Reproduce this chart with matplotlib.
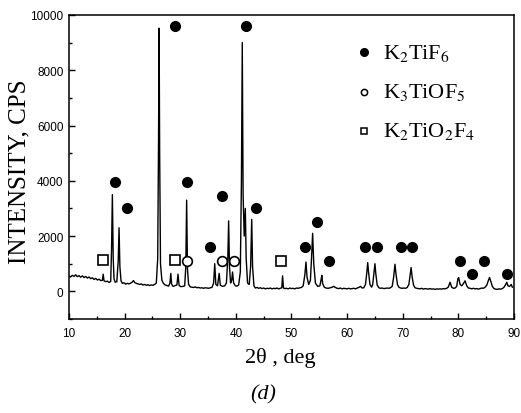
import matplotlib
matplotlib.use("Agg")
import matplotlib.pyplot as plt

plt.rcParams["font.family"] = ["Liberation Serif", "DejaVu Serif"]
plt.rcParams["mathtext.fontset"] = "stix"

# XRD pattern (2theta in deg, counts per second)
pattern = [
    (10.0, 560), (10.3, 520), (10.6, 580), (10.9, 540), (11.2, 600), (11.5, 530),
    (11.8, 570), (12.1, 510), (12.4, 560), (12.7, 500), (13.0, 540), (13.3, 480),
    (13.6, 520), (13.9, 460), (14.2, 490), (14.5, 430), (14.8, 470), (15.1, 410),
    (15.4, 440), (15.7, 390), (16.0, 400), (16.15, 620), (16.3, 380), (16.6, 350),
    (16.9, 370), (17.2, 320), (17.5, 360), (17.65, 1500), (17.8, 3500), (17.95, 1200),
    (18.1, 450), (18.3, 330), (18.6, 350), (18.85, 1100), (19.0, 2300), (19.15, 900),
    (19.35, 380), (19.6, 290), (19.9, 310), (20.2, 260), (20.5, 290), (20.8, 270),
    (21.1, 300), (21.4, 340), (21.6, 390), (21.8, 320), (22.1, 290), (22.4, 270),
    (22.7, 250), (23.0, 270), (23.3, 230), (23.6, 250), (23.9, 220), (24.2, 240),
    (24.5, 210), (24.8, 230), (25.1, 220), (25.4, 250), (25.7, 300), (25.95, 1200),
    (26.1, 5500), (26.2, 9520), (26.3, 5000), (26.45, 1000), (26.7, 400), (27.0, 280),
    (27.3, 230), (27.6, 210), (27.9, 190), (28.15, 300), (28.3, 650), (28.45, 260),
    (28.7, 180), (29.0, 200), (29.4, 230), (29.6, 620), (29.8, 210), (30.1, 170),
    (30.5, 180), (30.8, 200), (31.0, 900), (31.15, 3300), (31.3, 800), (31.5, 250),
    (31.8, 160), (32.1, 150), (32.4, 140), (32.7, 160), (33.0, 130), (33.3, 140),
    (33.6, 120), (33.9, 130), (34.2, 110), (34.5, 130), (34.8, 120), (35.1, 110),
    (35.4, 130), (35.7, 140), (36.0, 300), (36.2, 1000), (36.4, 250), (36.7, 200),
    (37.0, 650), (37.2, 220), (37.6, 180), (38.0, 200), (38.3, 300), (38.55, 1200),
    (38.7, 2550), (38.85, 900), (39.05, 300), (39.25, 400), (39.4, 700), (39.6, 300),
    (39.9, 200), (40.2, 190), (40.5, 230), (40.8, 700), (41.0, 4000), (41.15, 9000),
    (41.3, 3500), (41.5, 2000), (41.7, 3000), (41.85, 1200), (42.1, 300), (42.4, 250),
    (42.65, 900), (42.85, 2600), (43.0, 900), (43.25, 200), (43.5, 120), (43.8, 140),
    (44.1, 110), (44.4, 130), (44.7, 100), (45.0, 120), (45.3, 90), (45.6, 110),
    (45.9, 100), (46.2, 120), (46.5, 90), (46.8, 110), (47.1, 100), (47.4, 120),
    (47.7, 90), (48.0, 110), (48.25, 130), (48.4, 560), (48.55, 120), (48.8, 100),
    (49.1, 110), (49.4, 90), (49.7, 120), (50.0, 100), (50.3, 110), (50.6, 90),
    (50.9, 120), (51.2, 110), (51.5, 130), (51.8, 140), (52.1, 200), (52.4, 600),
    (52.6, 1060), (52.8, 500), (53.1, 250), (53.4, 400), (53.6, 1200), (53.8, 2100),
    (54.0, 1000), (54.3, 300), (54.7, 180), (55.1, 200), (55.3, 400), (55.45, 580),
    (55.6, 280), (55.9, 150), (56.2, 120), (56.6, 110), (57.0, 130), (57.3, 150),
    (57.6, 180), (57.9, 140), (58.2, 110), (58.5, 100), (58.8, 120), (59.1, 90),
    (59.4, 110), (59.7, 100), (60.0, 90), (60.3, 110), (60.6, 90), (60.9, 100),
    (61.2, 110), (61.5, 90), (61.8, 120), (62.1, 140), (62.4, 180), (62.7, 120),
    (63.0, 130), (63.3, 250), (63.55, 700), (63.7, 1040), (63.85, 700), (64.1, 250),
    (64.4, 150), (64.6, 250), (64.85, 700), (65.0, 1000), (65.15, 650), (65.4, 230),
    (65.7, 130), (66.0, 110), (66.3, 120), (66.6, 100), (66.9, 110), (67.2, 120),
    (67.5, 110), (67.8, 130), (68.1, 180), (68.35, 500), (68.6, 980), (68.8, 600),
    (69.05, 250), (69.3, 150), (69.6, 120), (69.9, 110), (70.2, 120), (70.5, 110),
    (70.8, 140), (71.1, 250), (71.3, 550), (71.5, 860), (71.7, 500), (71.95, 220),
    (72.2, 130), (72.5, 110), (72.8, 100), (73.1, 90), (73.4, 110), (73.7, 80),
    (74.0, 100), (74.3, 90), (74.6, 80), (74.9, 100), (75.2, 80), (75.5, 90),
    (75.8, 70), (76.1, 90), (76.4, 80), (76.7, 90), (77.0, 80), (77.3, 100),
    (77.6, 90), (77.9, 110), (78.2, 160), (78.5, 330), (78.8, 150), (79.1, 110),
    (79.4, 120), (79.7, 180), (79.9, 450), (80.05, 500), (80.3, 250), (80.6, 200),
    (80.9, 280), (81.2, 380), (81.5, 200), (81.8, 120), (82.1, 110), (82.4, 90),
    (82.7, 110), (83.0, 90), (83.3, 100), (83.6, 80), (83.9, 100), (84.2, 120),
    (84.5, 110), (84.8, 150), (85.1, 220), (85.4, 400), (85.6, 500), (85.85, 350),
    (86.1, 180), (86.4, 100), (86.7, 80), (87.0, 70), (87.3, 90), (87.6, 80),
    (87.9, 100), (88.2, 150), (88.5, 250), (88.7, 330), (88.9, 200), (89.2, 180),
    (89.5, 250), (89.7, 150),
]

# phase markers: (2theta, height where the symbol sits)
k2tif6 = [(18.3, 3950), (20.4, 3000), (29.0, 9600), (31.2, 3950), (35.4, 1600),
          (37.5, 3450), (41.8, 9600), (43.7, 3000), (52.4, 1600), (54.6, 2500),
          (56.8, 1100), (63.2, 1600), (65.3, 1600), (69.6, 1600), (71.7, 1600),
          (80.3, 1100), (82.5, 620), (84.6, 1100), (88.8, 620)]
k3tiof5 = [(31.2, 1100), (37.5, 1100), (39.7, 1100)]
k2tio2f4 = [(16.2, 1130), (29.0, 1130), (48.2, 1100)]

phase_names = ["K$_2$TiF$_6$", "K$_3$TiOF$_5$", "K$_2$TiO$_2$F$_4$"]

fig = plt.figure(figsize=(5.21, 4.14), dpi=100)
ax = fig.add_axes([0.1324, 0.2271, 0.8542, 0.7343])

tt, cps = zip(*pattern)
ax.plot(tt, cps, color="black", lw=1.0)

x, y = zip(*k2tif6)
ax.plot(x, y, "o", color="black", ms=7, ls="none")
x, y = zip(*k3tiof5)
ax.plot(x, y, "o", mfc="white", mec="black", mew=1.2, ms=7, ls="none")
x, y = zip(*k2tio2f4)
ax.plot(x, y, "s", mfc="white", mec="black", mew=1.2, ms=7, ls="none")

# legend drawn by hand
styles = [dict(marker="o", mfc="black", mec="black", ms=5.5),
          dict(marker="o", mfc="white", mec="black", mew=1.1, ms=4.5),
          dict(marker="s", mfc="white", mec="black", mew=1.1, ms=5)]
rows = [0.878, 0.747, 0.620]
for name, st, ry in zip(phase_names, styles, rows):
    ax.plot([0.663], [ry], transform=ax.transAxes, ls="none", clip_on=False, **st)
    ax.text(0.705, ry, name, transform=ax.transAxes, fontsize=16, va="center", ha="left")

ax.set_xlim(10, 90)
ax.set_ylim(-1000, 10000)
ax.set_xticks(range(10, 91, 10))
ax.set_xticks(range(15, 90, 10), minor=True)
ax.set_yticks(range(0, 10001, 2000))
ax.set_yticks(range(-1000, 10000, 2000), minor=True)
ax.tick_params(which="both", direction="in", width=1.0)
ax.tick_params(which="major", length=4)
ax.tick_params(which="minor", length=2.5)
ax.tick_params(axis="x", pad=6)
ax.tick_params(axis="y", pad=4)
for lab in ax.get_xticklabels() + ax.get_yticklabels():
    lab.set_family("Liberation Sans")
    lab.set_fontsize(8.5)
for sp in ax.spines.values():
    sp.set_linewidth(1.1)

fig.text(19 / 521, 1 - 172 / 414, "INTENSITY, CPS", rotation=90, fontsize=18,
         ha="center", va="center")
fig.text(280 / 521, 1 - 358 / 414, "2θ , deg", fontsize=16, ha="center", va="center")
fig.text(263 / 521, 1 - 395 / 414, "(d)", fontsize=16, style="italic",
         ha="center", va="center")

fig.savefig("out.png", dpi=100)
